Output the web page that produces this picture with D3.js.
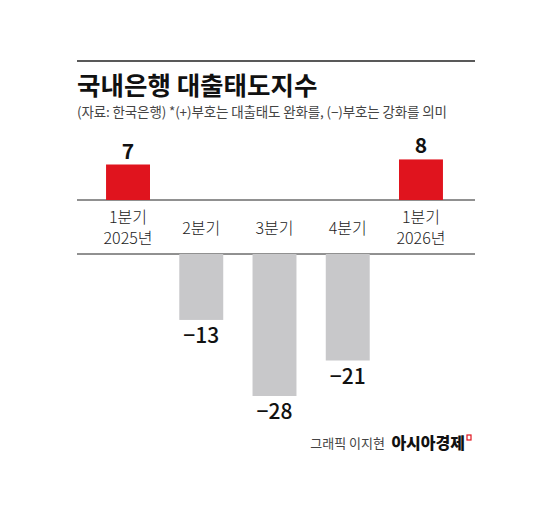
<!DOCTYPE html>
<html><head><meta charset="utf-8">
<script src="https://cdn.jsdelivr.net/npm/d3@7"></script>
<style>body{margin:0;background:#fff}text{font-family:"Noto Sans CJK KR","Noto Sans",sans-serif}</style>
</head><body><script>
"use strict";
let w = 550, h = 513;
let categories = ["1분기|2025년", "2분기", "3분기", "4분기", "1분기|2026년"];
let values = [7, -13, -28, -21, 8];

let svg = d3.select("body").append("svg").attr("width", w).attr("height", h);

let x = d3.scaleBand().domain(categories).range([91.4, 457.6]).paddingInner(0.4).paddingOuter(0.2);
let base = 200, negBase = 254;
let k = d3.scaleLinear().domain([0, 28]).range([0, 142]);

// rules
[61, base, negBase].forEach((y, i) => svg.append("line")
    .attr("x1", 77).attr("x2", 475).attr("y1", y).attr("y2", y)
    .attr("stroke", "#222").attr("stroke-width", i == 0 ? 1.5 : 1));

svg.append("text").attr("x", 77).attr("y", 95).attr("font-size", 25.5).attr("font-weight", 700)
    .attr("fill", "#111").text("국내은행 대출태도지수");
svg.append("text").attr("x", 77).attr("y", 117).attr("font-size", 13.5).attr("fill", "#444")
    .attr("textLength", 370).text("(자료: 한국은행)  *(+)부호는 대출태도 완화를, (−)부호는 강화를 의미");

let g = svg.append("g").selectAll("g").data(categories).enter().append("g");
g.append("rect")
    .attr("x", d => x(d)).attr("width", x.bandwidth())
    .attr("y", (d, i) => values[i] > 0 ? base - k(values[i]) : negBase)
    .attr("height", (d, i) => k(Math.abs(values[i])))
    .attr("fill", (d, i) => values[i] > 0 ? "#e0141e" : "#c8c8ca");
g.append("text")
    .attr("x", d => x(d) + x.bandwidth() / 2)
    .attr("y", (d, i) => values[i] > 0 ? base - k(values[i]) - 6 : negBase + k(-values[i]) + 23)
    .attr("text-anchor", "middle").attr("font-size", 21)
    .attr("font-weight", (d, i) => values[i] > 0 ? 700 : 500).attr("fill", "#111")
    .text((d, i) => values[i] > 0 ? values[i] : "−" + (-values[i]));
g.each(function(d) {
    let lines = d.split("|");
    let t = d3.select(this).append("text").attr("text-anchor", "middle")
        .attr("font-size", 16).attr("font-weight", 300).attr("fill", "#222");
    lines.forEach((l, j) => t.append("tspan")
        .attr("x", x(d) + x.bandwidth() / 2)
        .attr("y", lines.length == 1 ? 234 : 223 + j * 21).text(l));
});

svg.append("text").attr("x", 385).attr("y", 448).attr("text-anchor", "end")
    .attr("font-size", 13).attr("fill", "#444").text("그래픽 이지현");
svg.append("text").attr("x", 465).attr("y", 449).attr("text-anchor", "end")
    .attr("font-size", 16).attr("font-weight", 900).attr("fill", "#111").text("아시아경제");
svg.append("rect").attr("x", 467).attr("y", 435).attr("width", 4).attr("height", 5)
    .attr("fill", "none").attr("stroke", "#e0141e").attr("stroke-width", 1.2);
</script></body></html>
